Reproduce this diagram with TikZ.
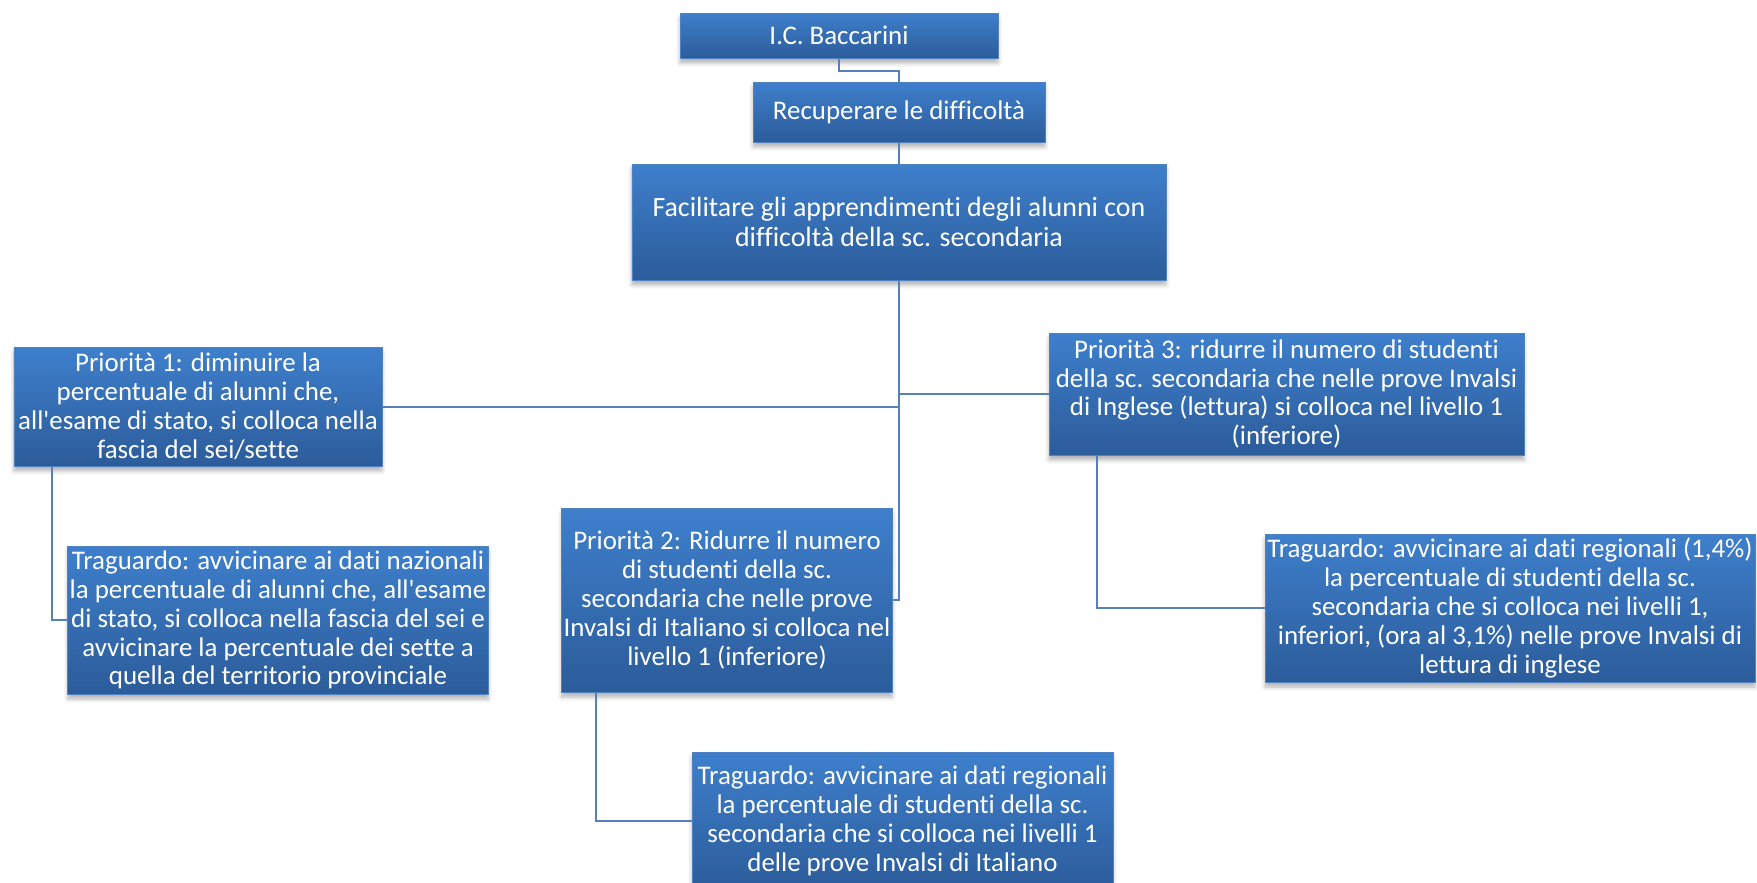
\documentclass[tikz,border=0pt]{standalone}
\usepackage{fontspec}
\setmainfont{Carlito}[Ligatures={NoCommon}]
\usepackage{xcolor}
\usepackage{tikz}
\usetikzlibrary{positioning,calc,shadows.blur}

\definecolor{boxtop}{RGB}{62,127,204}
\definecolor{boxbot}{RGB}{44,92,154}
\definecolor{boxedge}{RGB}{80,130,195}
\definecolor{linkcol}{RGB}{86,128,186}

\begin{document}
\begin{tikzpicture}[x=0.5bp, y=-0.5bp, outer sep=0pt,
    goalbox/.style={draw=boxedge, line width=0.4pt, rectangle, top color=boxtop, bottom color=boxbot,
        text=white, align=center, inner sep=1pt,
        font=\fontsize{13.5pt}{14.5pt}\selectfont,
        blur shadow={shadow xshift=0pt, shadow yshift=-2.5pt, shadow blur radius=2pt, shadow opacity=30}},
    link/.style={draw=linkcol, line width=1bp}]
        \useasboundingbox (0,0) rectangle (1757,882);

        % Top
        \node [goalbox, minimum width=159bp, minimum height=22.5bp] at (839,35.5) (Bacc) {I.C. Baccarini};
        \node [goalbox, minimum width=146bp, minimum height=30bp] at (899,112) (Rec) {Recuperare le difficoltà};
        \node [goalbox, minimum width=267bp, minimum height=58bp, font=\fontsize{14pt}{15pt}\selectfont] at (899,222) (Fac) {Facilitare gli apprendimenti degli alunni con\\difficoltà della sc. secondaria};

        % Priorita 1
        \node [goalbox, minimum width=184bp, minimum height=59.5bp] at (198,406.5) (Prio1) {Priorità 1: diminuire la\\percentuale di alunni che,\\all\textquotesingle esame di stato, si colloca nella\\fascia del sei/sette};
        \node [goalbox, minimum width=209bp, minimum height=74bp] at (278,620) (Trag1) {Traguardo: avvicinare ai dati nazionali\\la percentuale di alunni che, all\textquotesingle esame\\di stato, si colloca nella fascia del sei e\\avvicinare la percentuale dei sette  a\\quella del territorio provinciale};

        % Priorita 2
        \node [goalbox, minimum width=164bp, minimum height=92bp] at (727,600) (Prio2) {Priorità 2: Ridurre il numero\\di studenti della sc.\\secondaria che nelle prove\\Invalsi di Italiano si colloca nel\\livello 1 (inferiore)};
        \node [goalbox, minimum width=210.5bp, minimum height=69bp] at (902.5,821) (Trag2) {Traguardo: avvicinare ai dati regionali\\la percentuale di studenti della sc.\\secondaria che si colloca nei livelli 1\\delle prove  Invalsi di Italiano};

        % Priorita 3
        \node [goalbox, minimum width=237.5bp, minimum height=61bp] at (1286.5,394) (Prio3) {Priorità 3: ridurre il numero di studenti\\della sc. secondaria che nelle prove Invalsi\\di Inglese (lettura) si colloca nel livello 1\\(inferiore)};
        \node [goalbox, minimum width=245bp, minimum height=74bp] at (1510,608) (Trag3) {Traguardo: avvicinare ai dati regionali (1,4\%)\\la percentuale di studenti della sc.\\secondaria che si colloca nei livelli 1,\\inferiori, (ora al 3,1\%) nelle prove Invalsi di\\lettura di inglese};

        % Links
        \draw [link] (Bacc.south) -- ++(0,13) -| (Rec.north);
        \draw [link] (Rec.south) -- (Fac.north);
        \draw [link] (Fac.south) |- (Prio1.east);
        \draw [link] (Fac.south) |- (Prio3.west);
        \draw [link] (Fac.south) |- (Prio2.east);
        \draw [link] (Prio1.south west) ++(38,0) |- (Trag1.west);
        \draw [link] (Prio2.south west) ++(34,0) |- (Trag2.west);
        \draw [link] (Prio3.south west) ++(48,0) |- (Trag3.west);
    \end{tikzpicture}
\end{document}
